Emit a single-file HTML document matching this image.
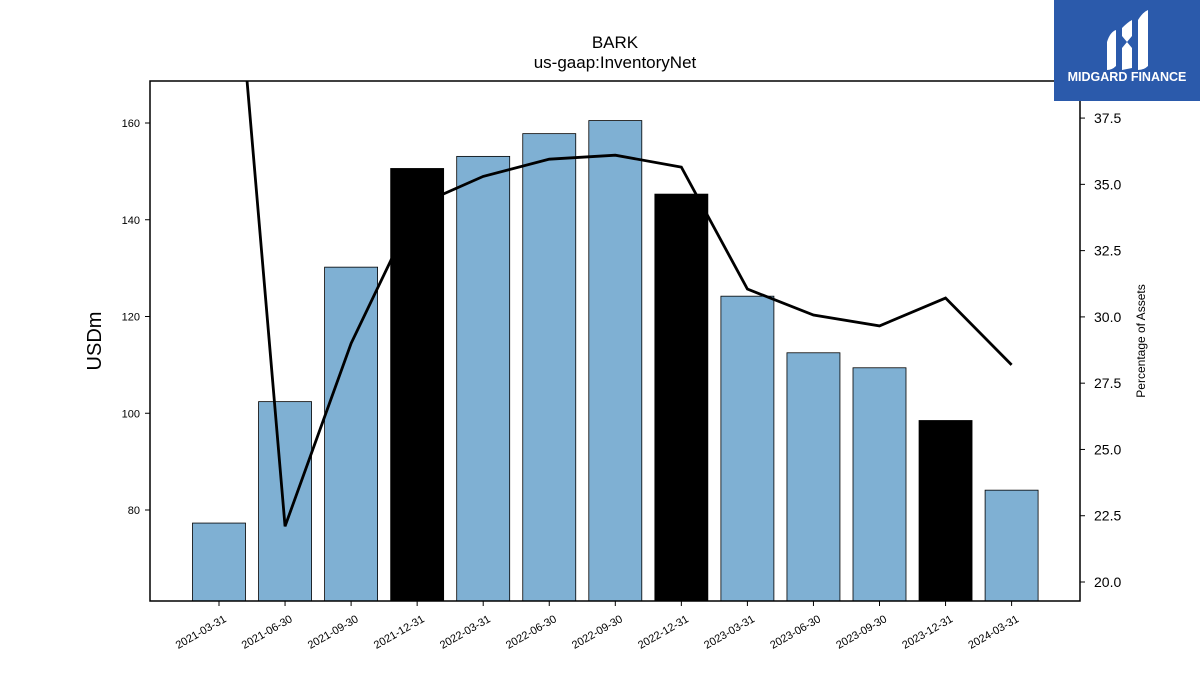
<!DOCTYPE html>
<html><head><meta charset="utf-8">
<style>
body{margin:0;background:#fff;width:1200px;height:675px;overflow:hidden;font-family:"Liberation Sans","DejaVu Sans",sans-serif;}
</style></head>
<body>
<svg id="chart" width="1200" height="675" xmlns="http://www.w3.org/2000/svg">
<text x="615" y="48" text-anchor="middle" font-size="17">BARK</text>
<text x="615" y="68" text-anchor="middle" font-size="17">us-gaap:InventoryNet</text>
<g id="bars"></g><g id="line"></g><g id="axes"></g>
<rect x="150" y="81" width="930" height="520" fill="none" stroke="#000" stroke-width="1.5"/>
<text transform="translate(101,341) rotate(-90)" text-anchor="middle" font-size="20">USDm</text>
<text transform="translate(1145,341) rotate(-90)" text-anchor="middle" font-size="12">Percentage of Assets</text>
<g>
<rect x="1054" y="0" width="146" height="101" fill="#2b5aab"/>
<path d="M1107 42 Q1110 32 1116 30 L1116 66 Q1112 70 1107 70 Z" fill="#fff"/>
<path d="M1122 28 Q1128 22 1132 20 L1132 36 L1127 42 L1122 36 Z M1122 48 L1127 42 L1132 48 L1132 68 L1122 70 Z" fill="#fff"/>
<path d="M1138 20 Q1143 12 1148 10 L1148 66 Q1144 70 1138 70 Z" fill="#fff"/>
<text x="1127" y="81" text-anchor="middle" font-size="12.5" font-weight="bold" fill="#fff">MIDGARD FINANCE</text>
</g>
</svg>
<script>
const categories=["2021-03-31","2021-06-30","2021-09-30","2021-12-31","2022-03-31","2022-06-30","2022-09-30","2022-12-31","2023-03-31","2023-06-30","2023-09-30","2023-12-31","2024-03-31"];
const inventory=[77.3,102.4,130.2,150.6,153.1,157.8,160.5,145.3,124.2,112.5,109.4,98.5,84.1];
const pctAssets=[51.3,22.1,29.0,34.2,35.3,35.95,36.1,35.65,31.05,30.07,29.66,30.71,28.19];
const leftTicks=[80,100,120,140,160];
const rightTicks=[20.0,22.5,25.0,27.5,30.0,32.5,35.0,37.5];
const NS="http://www.w3.org/2000/svg";
const L=150,R=1080,T=81,B=601;
const yL=v=>510-(v-80)*4.8375;
const yR=v=>582-(v-20)*26.51;
const x=i=>219+i*66.05;
function mk(t,a,p){const e=document.createElementNS(NS,t);for(const k in a)e.setAttribute(k,a[k]);p.appendChild(e);return e;}
const gb=document.getElementById('bars'),gl=document.getElementById('line'),ga=document.getElementById('axes');
inventory.forEach((v,i)=>{
 const q4=categories[i].endsWith('12-31');
 const r=mk('rect',{x:x(i)-26.5,y:yL(v),width:53,height:B-yL(v),fill:q4?'#000':'#7fb0d3',stroke:'#000','stroke-width':0.8},gb);
 
 
});
const cp=mk('clipPath',{id:'clip'},gl);mk('rect',{x:L,y:T,width:R-L,height:B-T},cp);
const pl=mk('polyline',{points:pctAssets.map((v,i)=>x(i)+','+yR(v)).join(' '),fill:'none',stroke:'#000','stroke-width':2.8,'clip-path':'url(#clip)'},gl);


leftTicks.forEach(v=>{
 mk('line',{x1:L-5,x2:L,y1:yL(v),y2:yL(v),stroke:'#000'},ga);
 const t=mk('text',{x:L-10,y:yL(v)+4,'text-anchor':'end','font-size':11},ga);t.textContent=v;
 
 
});
rightTicks.forEach(v=>{
 mk('line',{x1:R,x2:R+5,y1:yR(v),y2:yR(v),stroke:'#000'},ga);
 const t=mk('text',{x:R+14,y:yR(v)+5,'font-size':14},ga);t.textContent=v.toFixed(1);
 
 
});
categories.forEach((c,i)=>{
 mk('line',{x1:x(i),x2:x(i),y1:B,y2:B+5,stroke:'#000'},ga);
 const t=mk('text',{x:x(i)+8,y:B+20,'text-anchor':'end','font-size':11,transform:`rotate(-30 ${x(i)+8} ${B+20})`},ga);t.textContent=c;
 
 
});
</script>
</body></html>
